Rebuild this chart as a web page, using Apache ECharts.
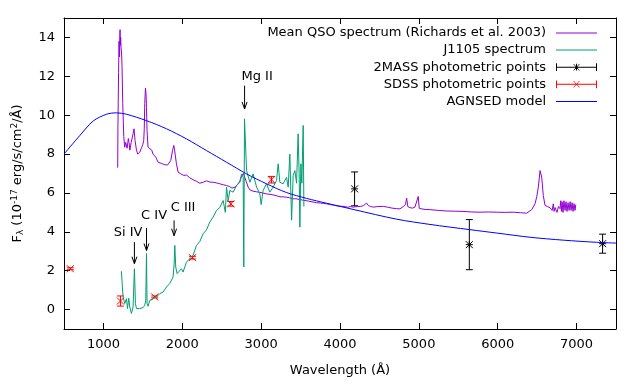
<!DOCTYPE html>
<html><head><meta charset="utf-8">
<script src="https://cdn.jsdelivr.net/npm/echarts@6/dist/echarts.min.js"></script>
<style>html,body{margin:0;padding:0;background:#fff}#c{width:640px;height:384px}</style>
</head><body><div id="c"></div>
<script>
// ---------- DATA ----------
const qsoWave = [1181,1184,1192,1198,1204,1208,1211,1215,1219,1223,1230,1236,1245,1258,1270,1282,1292,1300,1308,1316,1325,1335,1343,1352,1359,1368,1376,1388,1401,1419,1435,1448,1461,1474,1486,1500,1511,1518,1524,1533,1540,1546,1553,1566,1588,1613,1629,1645,1664,1680,1693,1714,1735,1756,1778,1799,1815,1829,1854,1876,1892,1900,1909,1926,1947,1965,1981,2000,2019,2035,2053,2075,2095,2115,2137,2160,2180,2200,2222,2245,2264,2285,2307,2330,2350,2372,2391,2430,2476,2520,2561,2600,2630,2645,2670,2704,2730,2751,2774,2793,2810,2835,2860,2898,2940,2983,3025,3070,3110,3152,3200,3240,3280,3322,3360,3400,3440,3491,3540,3600,3660,3700,3750,3790,3830,3880,3920,3960,3999,4060,4100,4130,4167,4220,4260,4300,4337,4360,4390,4421,4480,4548,4600,4660,4718,4760,4802,4830,4845,4860,4887,4920,4950,4970,4992,5005,5014,5080,5141,5250,5353,5460,5560,5670,5775,5880,5987,6090,6198,6290,6368,6431,6473,6495,6515,6537,6558,6578,6600,6630,6663,6690,6705,6715,6727,6752,6770,6790,6800,6808,6816,6828,6840,6854,6866,6879,6892,6905,6918,6930,6943,6955,6968,6980,6990];
const qsoFlux = [7.3,9.4,12.2,13.8,13.0,14.1,14.4,13.6,14.0,13.5,13.2,12.5,10.6,8.9,8.35,8.6,8.7,8.3,8.4,8.8,8.6,8.2,8.3,8.6,8.5,8.7,9.05,9.3,8.7,8.2,8.0,8.1,8.1,8.2,8.35,8.5,8.7,9.3,10.6,11.4,11.1,10.4,9.2,8.35,8.27,8.2,8.0,7.95,7.84,7.7,7.58,7.55,7.52,7.5,7.45,7.41,7.44,7.5,7.67,8.18,8.44,8.3,8.0,7.5,7.07,7.0,6.98,6.92,6.9,6.95,6.92,6.82,6.78,6.72,6.68,6.63,6.6,6.55,6.5,6.53,6.55,6.6,6.62,6.57,6.56,6.58,6.55,6.52,6.47,6.42,6.38,6.33,6.25,6.22,6.3,6.45,6.6,6.85,7.0,6.9,6.6,6.3,6.15,6.09,6.06,6.03,5.99,5.95,5.93,5.9,5.85,5.8,5.8,5.78,5.75,5.7,5.7,5.66,5.62,5.58,5.53,5.5,5.48,5.46,5.44,5.4,5.37,5.34,5.32,5.3,5.26,5.3,5.27,5.3,5.3,5.35,5.48,5.35,5.3,5.27,5.3,5.31,5.27,5.22,5.19,5.18,5.3,5.4,5.73,5.3,5.24,5.22,5.27,5.2,5.82,5.2,5.14,5.15,5.14,5.1,5.07,5.06,5.05,5.02,5.01,5.02,5.01,5.0,5.01,4.98,4.96,5.14,5.44,5.8,6.3,7.15,6.81,5.87,5.36,5.3,5.24,5.1,5.44,5.05,5.25,5.0,5.3,5.19,5.6,5.05,5.55,5.0,5.6,5.1,5.55,5.05,5.5,5.1,5.55,5.1,5.5,5.05,5.45,5.1,5.4];

const j1105Wave = [1228,1240,1249,1270,1292,1305,1321,1334,1355,1368,1376,1393,1406,1419,1440,1461,1482,1503,1524,1537,1546,1553,1566,1588,1630,1673,1714,1756,1799,1841,1883,1896,1905,1917,1934,1956,1990,2010,2053,2095,2137,2180,2222,2264,2307,2349,2391,2434,2476,2518,2546,2561,2582,2603,2645,2688,2730,2751,2772,2780,2789,2815,2857,2898,2942,2983,3000,3025,3068,3110,3152,3195,3216,3237,3279,3322,3343,3364,3386,3406,3428,3449,3469,3482,3491,3504,3516,3533,3542];
const j1105Flux = [1.97,1.2,0.65,0.31,0.56,0.05,0.58,0.13,-0.2,-0.3,0.13,2.1,0.3,0.05,-0.04,0.05,-0.04,0.1,0.22,0.48,2.88,0.3,0.17,0.48,0.56,0.65,0.82,0.9,1.16,1.34,1.67,2.3,3.3,2.19,1.85,1.76,2.1,1.93,2.44,2.62,2.8,3.3,3.5,3.9,4.1,4.5,4.76,5.1,5.25,5.61,5.0,6.3,5.6,6.13,6.04,6.38,6.55,6.98,6.8,2.19,9.81,7.15,6.55,6.98,6.3,5.96,5.4,6.13,6.47,6.04,6.3,6.64,7.5,6.55,6.47,6.8,6.3,8.0,4.6,6.9,7.15,6.5,9.04,7.0,4.24,7.5,6.5,9.47,5.3];

const agnWave = [500,700,870,1040,1165,1290,1546,1800,2053,2307,2561,2815,3068,3322,3576,3830,4180,4718,5141,5649,6000,6410,6832,7256,7500];
const agnFlux = [8.0,8.95,9.7,10.05,10.12,10.05,9.72,9.3,8.78,8.18,7.58,6.98,6.47,6.02,5.72,5.47,5.14,4.65,4.38,4.11,3.93,3.72,3.57,3.46,3.42];

const twomassWave = [4185,5640,7330];
const twomassFlux = [6.21,3.34,3.39];
const twomassErr  = [0.87,1.29,0.49];

const sdssWave = [580,1216,1651,2129,2615,3131];
const sdssFlux = [2.1,0.44,0.65,2.67,5.44,6.68];
const sdssErr  = [0.05,0.26,0.05,0.07,0.12,0.17];

const lineNames   = ['Si IV','C IV','C III','Mg II'];
const lineWave    = [1393,1546,1896,2790];
const arrowTop    = [3.47,4.19,4.59,11.52];
const arrowBottom = [2.36,3.04,3.80,10.32];
const labelWave   = [1312,1642,2010,2949];
const labelFlux   = [3.95,4.83,5.24,11.98];

const xTicks = [1000,2000,3000,4000,5000,6000,7000];
const yTicks = [0,2,4,6,8,10,12,14];

const seriesNames = ['Mean QSO spectrum (Richards et al. 2003)','J1105 spectrum','2MASS photometric points','SDSS photometric points','AGNSED model'];

// ---------- CHART ----------
const FONT = 'DejaVu Sans';
const COLORS = ['#9400d3','#009e73','#000000','#ff0000','#0000ff'];
const zip = (a,b) => a.map((v,i)=>[v,b[i]]);

function errRender(color, star){
  return function(params, api){
    const x = api.value(0), y = api.value(1), e = api.value(2);
    const c = api.coord([x,y]), t = api.coord([x,y+e]), b = api.coord([x,y-e]);
    const cw = 3.5, m = 3.5;
    const st = {stroke: color, lineWidth: 1, fill: null};
    const L = (x1,y1,x2,y2)=>({type:'line', shape:{x1,y1,x2,y2}, style:st});
    const ch = [
      L(c[0],t[1],c[0],b[1]),
      L(c[0]-cw,t[1],c[0]+cw,t[1]),
      L(c[0]-cw,b[1],c[0]+cw,b[1]),
      L(c[0]-m,c[1]-m,c[0]+m,c[1]+m),
      L(c[0]-m,c[1]+m,c[0]+m,c[1]-m)
    ];
    if (star){ ch.push(L(c[0]-m,c[1],c[0]+m,c[1])); ch.push(L(c[0],c[1]-m,c[0],c[1]+m)); }
    return {type:'group', children: ch};
  };
}

function annRender(params, api){
  const i = params.dataIndex;
  const top = api.coord([api.value(0), api.value(1)]);
  const bot = api.coord([api.value(0), api.value(2)]);
  const lab = api.coord([api.value(3), api.value(4)]);
  const st = {stroke:'#000', lineWidth:1, fill:null};
  return {type:'group', children:[
    {type:'line', shape:{x1:top[0],y1:top[1],x2:bot[0],y2:bot[1]}, style:st},
    {type:'polyline', shape:{points:[[bot[0]-2.5,bot[1]-7],[bot[0],bot[1]],[bot[0]+2.5,bot[1]-7]]}, style:st},
    {type:'text', style:{text: lineNames[i], x: lab[0], y: lab[1], fill:'#000', font: '13px "DejaVu Sans"', align:'center', verticalAlign:'middle'}}
  ]};
}

const lineIcon = 'path://M0,4.5h42v1h-42z';
const errIcon2mass = 'path://M0,4.5h42v1h-42z M0,1h1v8h-1z M41,1h1v8h-1z M20.5,1.5h1v7h-1z M17.6,1.6L18.4,1.6L24.4,8.4L23.6,8.4z M23.6,1.6L24.4,1.6L18.4,8.4L17.6,8.4z';
const errIconSdss  = 'path://M0,4.5h42v1h-42z M0,1h1v8h-1z M41,1h1v8h-1z M17.6,1.6L18.4,1.6L24.4,8.4L23.6,8.4z M23.6,1.6L24.4,1.6L18.4,8.4L17.6,8.4z';
const legendIcons = [lineIcon,lineIcon,errIcon2mass,errIconSdss,lineIcon];

const axisCommon = {
  type:'value', axisLine:{show:true, onZero:false, lineStyle:{color:'#000', width:1}},
  splitLine:{show:false}
};
const plain = v => String(v);

const option = {
  animation:false,
  backgroundColor:'#fff',
  grid:{left:64, right:24, top:18, bottom:55, containLabel:false},
  legend: seriesNames.map((n,i)=>({
    data:[{name:n, icon:legendIcons[i], itemStyle:{color:COLORS[i], borderWidth:0}}],
    right:43, top: 26.5 + 17.1*i, orient:'horizontal', align:'right',
    itemWidth:41, itemHeight:10, padding:0, selectedMode:false,
    textStyle:{fontSize:13, fontFamily:FONT, color:'#000', padding:[0,5,0,0]}
  })),
  xAxis:[
    Object.assign({}, axisCommon, {min:500, max:7500, position:'bottom',
      axisTick:{show:true, inside:true, length:6, customValues:xTicks, lineStyle:{color:'#000'}},
      axisLabel:{customValues:xTicks, formatter:plain, margin:9, color:'#000', fontSize:13, fontFamily:FONT},
      name:'Wavelength (Å)', nameLocation:'middle', nameGap:35,
      nameTextStyle:{fontSize:13, fontFamily:FONT, color:'#000'}}),
    Object.assign({}, axisCommon, {min:500, max:7500, position:'top',
      axisTick:{show:true, inside:true, length:6, customValues:xTicks, lineStyle:{color:'#000'}},
      axisLabel:{show:false}})
  ],
  yAxis:[
    Object.assign({}, axisCommon, {min:-1, max:15, position:'left',
      axisTick:{show:true, inside:true, length:6, customValues:yTicks, lineStyle:{color:'#000'}},
      axisLabel:{customValues:yTicks, formatter:plain, margin:9, color:'#000', fontSize:13, fontFamily:FONT},
      name:'{t|F}{sub|λ}{t| (10}{sup|-17}{t| erg/s/cm}{sup|2}{t|/Å)}', nameLocation:'middle', nameGap:38,
      nameTextStyle:{fontSize:13, fontFamily:FONT, color:'#000',
        rich:{t:{fontSize:13, fontFamily:FONT, color:'#000'},
              sub:{fontSize:9, fontFamily:FONT, color:'#000', padding:[6,0,0,0]},
              sup:{fontSize:9, fontFamily:FONT, color:'#000', padding:[0,0,7,0]}}}}),
    Object.assign({}, axisCommon, {min:-1, max:15, position:'right',
      axisTick:{show:true, inside:true, length:6, customValues:yTicks, lineStyle:{color:'#000'}},
      axisLabel:{show:false}})
  ],
  series:[
    {name:seriesNames[0], type:'line', symbol:'none', data:zip(qsoWave,qsoFlux),
     lineStyle:{color:COLORS[0], width:1}, itemStyle:{color:COLORS[0]}, clip:true},
    {name:seriesNames[1], type:'line', symbol:'none', data:zip(j1105Wave,j1105Flux),
     lineStyle:{color:COLORS[1], width:1}, itemStyle:{color:COLORS[1]}, clip:true},
    {name:seriesNames[2], type:'custom', renderItem:errRender(COLORS[2], true),
     itemStyle:{color:COLORS[2]}, dimensions:['x','y','e'], encode:{x:0,y:1},
     data: twomassWave.map((w,i)=>[w,twomassFlux[i],twomassErr[i]])},
    {name:seriesNames[3], type:'custom', renderItem:errRender(COLORS[3], false),
     itemStyle:{color:COLORS[3]}, dimensions:['x','y','e'], encode:{x:0,y:1},
     data: sdssWave.map((w,i)=>[w,sdssFlux[i],sdssErr[i]])},
    {name:seriesNames[4], type:'line', symbol:'none', smooth:0.3, data:zip(agnWave,agnFlux),
     lineStyle:{color:COLORS[4], width:1}, itemStyle:{color:COLORS[4]}, clip:true},
    {name:'lines', type:'custom', renderItem:annRender, dimensions:['x','t','b','lx','ly'], encode:{x:0,y:1},
     data: lineWave.map((w,i)=>[w,arrowTop[i],arrowBottom[i],labelWave[i],labelFlux[i]])}
  ]
};
echarts.init(document.getElementById('c'), null, {renderer:'canvas'}).setOption(option);
</script></body></html>
